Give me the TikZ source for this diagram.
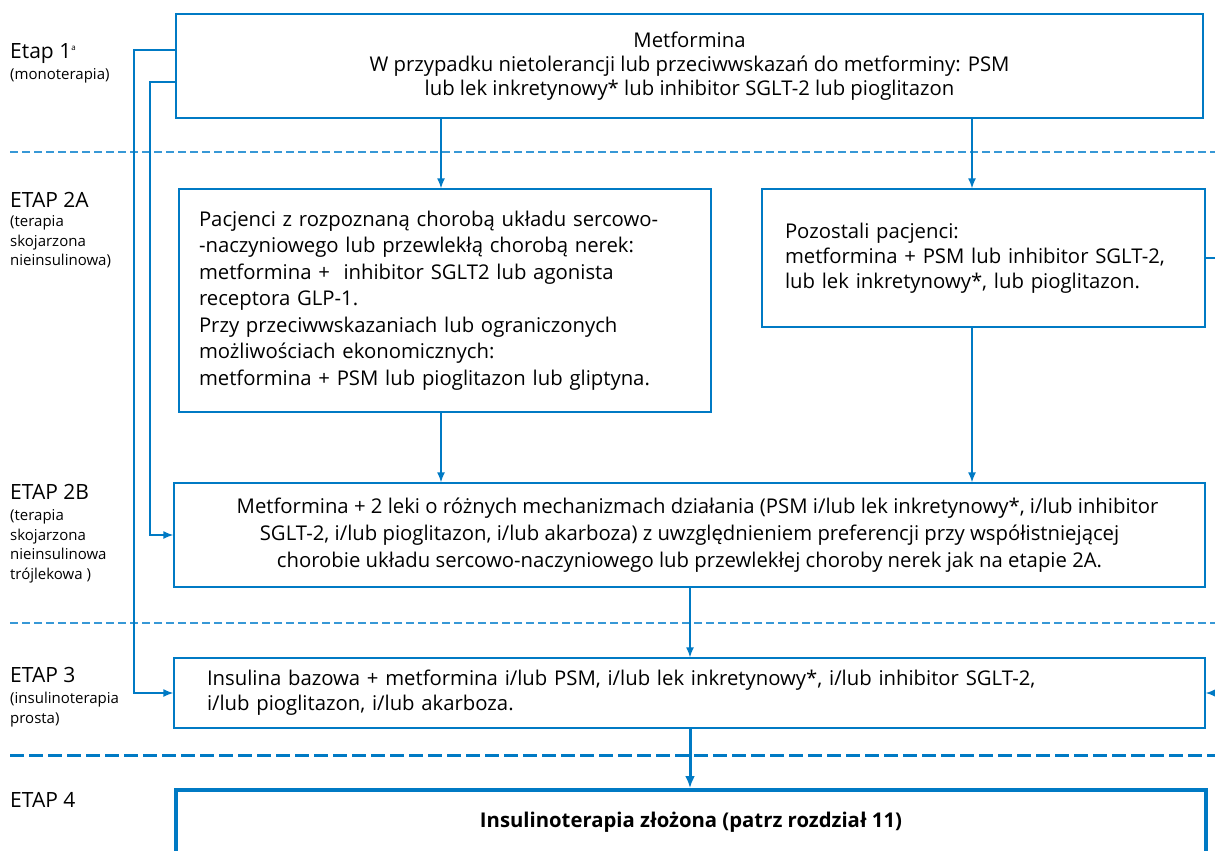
\documentclass[tikz,border=0pt]{standalone}
\usepackage{fontspec}
\setmainfont{Open Sans}
\usepackage{xcolor}
\usetikzlibrary{arrows.meta}
\definecolor{flowblue}{RGB}{0,122,196}
\definecolor{dashblue}{RGB}{55,152,214}

\begin{document}
\begin{tikzpicture}[x=1pt,y=-1pt,
    box/.style={draw=flowblue, line width=1.4pt, inner ysep=0pt, font=\fontsize{20.3}{24}\selectfont},
    stage/.style={anchor=west, inner sep=0pt, font=\fontsize{21}{24}\selectfont},
    stagenote/.style={anchor=north west, inner sep=0pt, align=left, font=\fontsize{15}{19.8}\selectfont},
    conn/.style={draw=flowblue, line width=1.4pt},
    arr/.style={conn, -{Latex[length=10pt,width=8pt]}},
    bigarr/.style={draw=flowblue, line width=3pt, -{Latex[length=12pt,width=10pt]}},
    sep/.style={draw=dashblue, line width=1.4pt, dash pattern=on 8pt off 4pt},
    bigsep/.style={draw=flowblue, line width=3pt, dash pattern=on 14pt off 5pt}]
    \useasboundingbox (0,0) rectangle (1215,851);
    \clip (0,0) rectangle (1215,851);

    \node[stage] (s1) at (10,54) {Etap 1\raisebox{8pt}{\fontsize{8}{8}\selectfont a}};
    \node[stagenote] (s1n) at (10,68) {(monoterapia)};
    \node[stage] (s2a) at (10,200) {ETAP 2A};
    \node[stagenote] (s2an) at (10,215) {(terapia\\skojarzona\\nieinsulinowa)};
    \node[stage] (s2b) at (10,492) {ETAP 2B};
    \node[stagenote] (s2bn) at (10,509) {(terapia\\skojarzona\\nieinsulinowa\\trójlekowa )};
    \node[stage] (s3) at (10,675) {ETAP 3};
    \node[stagenote] (s3n) at (10,692) {(insulinoterapia\\prosta)};
    \node[stage] (s4) at (10,800) {ETAP 4};

    \draw[sep] (10,152) -- (1215,152);
    \draw[sep] (10,623) -- (1215,623);
    \draw[bigsep] (10,755) -- (1215,755);

    \node[box, minimum width=1027pt, minimum height=104pt, align=center] (b1) at (689.5,66)
        {Metformina\\W przypadku nietolerancji lub przeciwwskazań do metforminy: PSM\\lub lek inkretynowy* lub inhibitor SGLT-2 lub pioglitazon};
    \node[box, inner xsep=20pt, text width=492pt, minimum height=223pt, align=left,
        font=\fontsize{20.3}{26.5}\selectfont] (b2al) at (445,300.5)
        {Pacjenci z rozpoznaną chorobą układu sercowo-\\-naczyniowego lub przewlekłą chorobą nerek:\\metformina +\ \ inhibitor SGLT2 lub agonista\\receptora GLP-1.\\Przy przeciwwskazaniach lub ograniczonych\\możliwościach ekonomicznych:\\metformina + PSM lub pioglitazon lub gliptyna.};
    \node[box, inner xsep=23pt, text width=397pt, minimum height=138pt, align=left,
        font=\fontsize{20.3}{25}\selectfont] (b2ar) at (983.5,258)
        {Pozostali pacjenci:\\metformina + PSM lub inhibitor SGLT-2,\\lub lek inkretynowy*, lub pioglitazon.};
    \node[box, minimum width=1031pt, minimum height=104pt, align=center,
        font=\fontsize{20.3}{27}\selectfont] (b2b) at (689.5,535)
        {\hspace*{16pt}Metformina + 2 leki o różnych mechanizmach działania (PSM i/lub lek inkretynowy*, i/lub inhibitor\\SGLT-2, i/lub pioglitazon, i/lub akarboza) z uwzględnieniem preferencji przy współistniejącej\\chorobie układu sercowo-naczyniowego lub przewlekłej choroby nerek jak na etapie 2A.};
    \node[box, inner xsep=33pt, text width=965pt, minimum height=70pt, align=left,
        font=\fontsize{20.3}{25}\selectfont] (b3) at (689.5,693)
        {Insulina bazowa + metformina i/lub PSM, i/lub lek inkretynowy*, i/lub inhibitor SGLT-2,\\i/lub pioglitazon, i/lub akarboza.};
    \node[box, line width=4pt, minimum width=1030pt, minimum height=64pt,
        font=\fontsize{20.3}{24}\selectfont\bfseries] (b4) at (691,822)
        {Insulinoterapia złożona (patrz rozdział 11)};

    \coordinate (r2a) at (1215,258);
    \coordinate (r3) at (1215,693);

    \draw[arr] (b1.south -| 441,0) -- (b2al.north -| 441,0);
    \draw[arr] (b1.south -| 972,0) -- (b2ar.north -| 972,0);
    \draw[arr] (b2al.south -| 441,0) -- (b2b.north -| 441,0);
    \draw[arr] (b2ar.south -| 972,0) -- (b2b.north -| 972,0);
    \draw[arr] (b2b.south -| 690,0) -- (b3.north -| 690,0);
    \draw[bigarr] (b3.south -| 690,0) -- (b4.north -| 690,0);
    \draw[arr] ([yshift=16pt]b1.west) -| (134,693) -- (b3.west);
    \draw[arr] ([yshift=-16pt]b1.west) -| (150,535) -- (b2b.west);
    \draw[conn] (b2ar.east) -- (r2a);
    \draw[arr] (r3) -- (b3.east);
\end{tikzpicture}
\end{document}
